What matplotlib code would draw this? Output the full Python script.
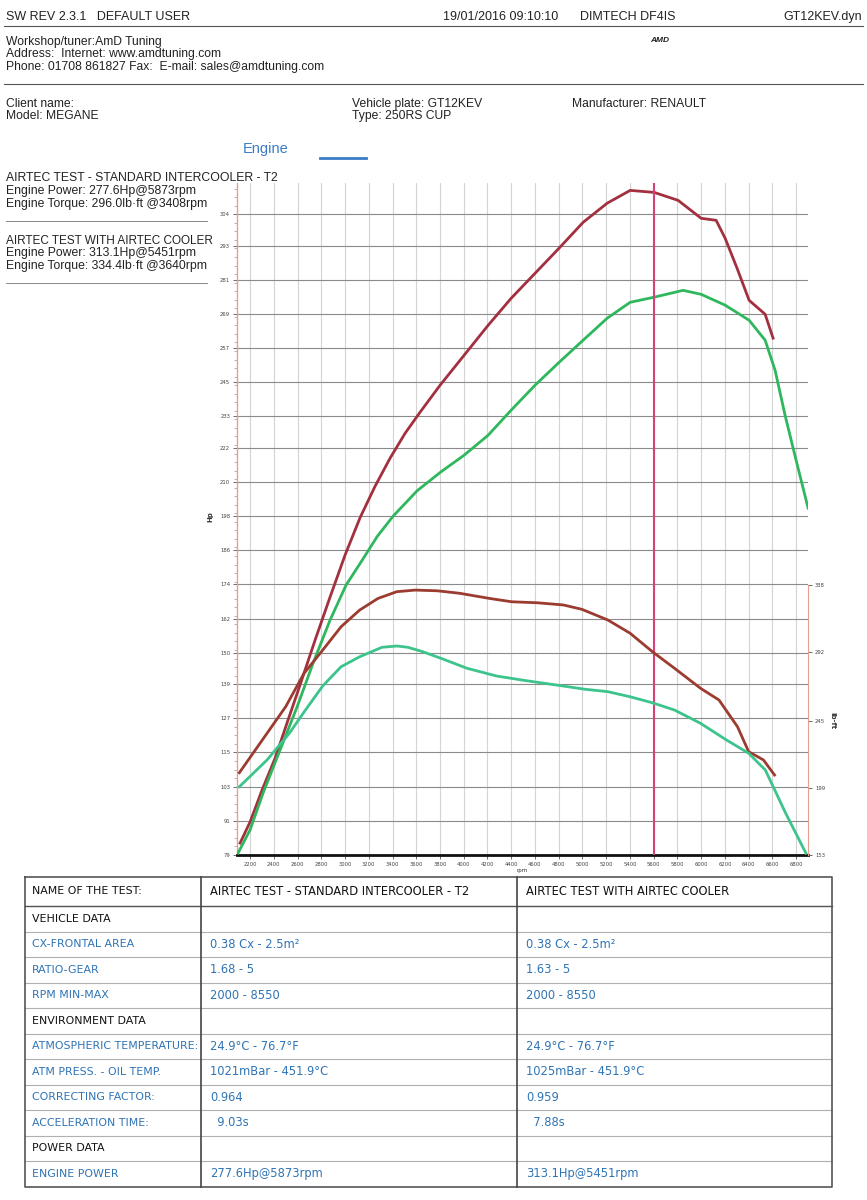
import matplotlib
matplotlib.use("Agg")
import matplotlib.pyplot as plt
from matplotlib.ticker import AutoMinorLocator

# ---- curve data ----
# airtec cooler run (red) - power
rpm_red_hp = [2116, 2200, 2301, 2411, 2520, 2621, 2748, 2874, 3000, 3127, 3253, 3380,
              3506, 3632, 3801, 4003, 4205, 4399, 4601, 4803, 5006, 5208, 5402, 5604,
              5806, 6000, 6126, 6202, 6303, 6404, 6539, 6606]
hp_red = [83.2, 90.6, 101.8, 113.0, 126.4, 138.7, 154.5, 169.6, 184.3, 197.5, 208.5, 218.4,
          227.1, 234.5, 244.0, 254.5, 265.0, 274.5, 283.3, 292.1, 301.2, 307.9, 312.4, 311.7,
          308.9, 302.6, 301.9, 295.6, 285.0, 273.8, 268.9, 260.5]

# standard intercooler run (green) - power
rpm_green_hp = [2099, 2200, 2310, 2453, 2596, 2731, 2874, 3009, 3144, 3270, 3405, 3607,
                3809, 4003, 4205, 4399, 4601, 4803, 5006, 5208, 5402, 5604, 5848, 6000,
                6202, 6404, 6539, 6623, 6707, 6800, 6901]
hp_green = [79.7, 87.8, 100.8, 115.9, 131.0, 146.4, 161.5, 173.8, 182.5, 190.8, 198.0, 206.9,
            213.6, 219.4, 226.4, 235.2, 244.0, 252.0, 259.8, 267.5, 273.1, 274.9, 277.3, 275.9,
            272.1, 266.8, 259.8, 249.2, 233.4, 217.6, 200.8]

# torque curves (lb-ft, right axis)
rpm_red_tq = [2110, 2343, 2500, 2655, 2812, 2967, 3123, 3278, 3436, 3592, 3779, 3966,
              4216, 4403, 4621, 4840, 4996, 5214, 5402, 5589, 5776, 5995, 6150, 6306,
              6400, 6525, 6618]
tq_red = [209.4, 236.4, 254.6, 277.5, 293.4, 309.4, 320.8, 328.8, 333.4, 334.5, 334.0, 332.3,
          328.8, 326.5, 325.8, 324.3, 321.3, 314.0, 304.9, 292.3, 280.9, 267.2, 259.2, 240.9,
          223.8, 218.1, 207.8]

rpm_green_tq = [2110, 2343, 2531, 2655, 2812, 2967, 3123, 3311, 3436, 3529, 3654, 3810,
                4028, 4278, 4528, 4777, 5027, 5214, 5402, 5589, 5776, 5995, 6213, 6400,
                6541, 6712, 6883]
tq_green = [199.8, 218.1, 236.4, 251.0, 268.8, 282.0, 288.8, 295.3, 296.2, 295.3, 292.3, 287.7,
            280.9, 275.6, 272.4, 269.5, 266.5, 264.9, 261.4, 257.3, 252.3, 243.2, 231.8, 222.7,
            211.2, 181.6, 154.2]

marker_rpm = 5600

hp_ticks = [79, 91, 103, 115, 127, 139, 150, 162, 174, 186, 198, 210, 222, 233, 245,
            257, 269, 281, 293, 304]
tq_ticks = [153, 199, 245, 292, 338]
rpm_ticks = [2200, 2400, 2600, 2800, 3000, 3200, 3400, 3600, 3800, 4000, 4200, 4400,
             4600, 4800, 5000, 5200, 5400, 5600, 5800, 6000, 6200, 6400, 6600, 6800]

# ---- table data ----
row_names = ["NAME OF THE TEST:", "VEHICLE DATA", "CX-FRONTAL AREA", "RATIO-GEAR",
             "RPM MIN-MAX", "ENVIRONMENT DATA", "ATMOSPHERIC TEMPERATURE:",
             "ATM PRESS. - OIL TEMP.", "CORRECTING FACTOR:", "ACCELERATION TIME:",
             "POWER DATA", "ENGINE POWER"]
col_std = ["AIRTEC TEST - STANDARD INTERCOOLER - T2", "", "0.38 Cx - 2.5m²", "1.68 - 5",
           "2000 - 8550", "", "24.9°C - 76.7°F", "1021mBar - 451.9°C", "0.964", "  9.03s",
           "", "277.6Hp@5873rpm"]
col_air = ["AIRTEC TEST WITH AIRTEC COOLER", "", "0.38 Cx - 2.5m²", "1.63 - 5",
           "2000 - 8550", "", "24.9°C - 76.7°F", "1025mBar - 451.9°C", "0.959", "  7.88s",
           "", "313.1Hp@5451rpm"]
black_rows = [0, 1, 5, 10]

RED_HP = "#a3303f"
RED_TQ = "#9c3b30"
GREEN_HP = "#2fb75e"
GREEN_TQ = "#3cc48c"
BLUE = "#2f74b5"
SALMON = "#e7a08f"

W, H = 867, 1200
fig = plt.figure(figsize=(W / 100, H / 100), dpi=100)

# background axes in pixel units for the sheet text and table
bg = fig.add_axes([0, 0, 1, 1])
bg.set_xlim(0, W)
bg.set_ylim(H, 0)
bg.axis("off")

hfont = ["Liberation Sans", "DejaVu Sans"]
tfont = ["DejaVu Sans"]

def txt(x, y, s, size=8.5, family=hfont, color="#222222", ha="left", **kw):
    bg.text(x, y, s, fontsize=size, family=family, color=color, ha=ha, va="center", **kw)

# header
txt(6, 17, "SW REV 2.3.1   DEFAULT USER", 9)
txt(443, 17, "19/01/2016 09:10:10", 9)
txt(580, 17, "DIMTECH DF4IS", 9)
txt(862, 17, "GT12KEV.dyn", 9, ha="right")
bg.plot([4, 863], [26, 26], color="#555555", lw=0.8)
txt(6, 42, "Workshop/tuner:AmD Tuning", 8.7)
txt(6, 54, "Address:  Internet: www.amdtuning.com", 8.7)
txt(6, 67, "Phone: 01708 861827 Fax:  E-mail: sales@amdtuning.com", 8.7)
txt(650, 40, "AMD", 6, weight="bold", style="italic")
bg.plot([4, 863], [84, 84], color="#555555", lw=0.8)
txt(6, 104, "Client name:", 8.7)
txt(6, 116, "Model: MEGANE", 8.7)
txt(352, 104, "Vehicle plate: GT12KEV", 8.7)
txt(352, 116, "Type: 250RS CUP", 8.7)
txt(572, 104, "Manufacturer: RENAULT", 8.7)

txt(243, 149, "Engine", 10.5, color="#3a7cc8")
bg.plot([320, 366], [158, 158], color="#3a7cc8", lw=2)

# run summaries on the left
txt(6, 178, "AIRTEC TEST - STANDARD INTERCOOLER - T2", 8.8)
txt(6, 191, "Engine Power: 277.6Hp@5873rpm", 8.8)
txt(6, 204, "Engine Torque: 296.0lb·ft @3408rpm", 8.8)
bg.plot([6, 207], [221, 221], color="#888888", lw=0.7)
txt(6, 241, "AIRTEC TEST WITH AIRTEC COOLER", 8.5)
txt(6, 253, "Engine Power: 313.1Hp@5451rpm", 8.8)
txt(6, 266, "Engine Torque: 334.4lb·ft @3640rpm", 8.8)
bg.plot([6, 207], [283, 283], color="#888888", lw=0.7)

# ---- table ----
x0, x1, x2, x3 = 25, 201, 517, 832
y_top = 877
row_h = [29] + [25.5] * 11
ys = [y_top]
for h in row_h:
    ys.append(ys[-1] + h)
for yy in ys[1:-1]:
    bg.plot([x0, x3], [yy, yy], color="#b0b0b0", lw=0.8)
bg.plot([x0, x3], [ys[1], ys[1]], color="#555555", lw=1.0)
bg.plot([x0, x3, x3, x0, x0], [ys[0], ys[0], ys[-1], ys[-1], ys[0]], color="#555555", lw=1.2)
bg.plot([x1, x1], [ys[0], ys[-1]], color="#444444", lw=1.2)
bg.plot([x2, x2], [ys[0], ys[-1]], color="#444444", lw=1.2)
for i, name in enumerate(row_names):
    yc = (ys[i] + ys[i + 1]) / 2
    c = "#111111" if i in black_rows else BLUE
    txt(x0 + 7, yc, name, 7.95, family=tfont, color=c)
    txt(x1 + 9, yc, col_std[i], 8.3, family=tfont, color=c)
    txt(x2 + 9, yc, col_air[i], 8.3, family=tfont, color=c)

# ---- dyno chart ----
ax = fig.add_axes([237 / W, 1 - 855 / H, (808 - 237) / W, (855 - 183) / H])
ax.set_xlim(2090, 6900)
ax.set_ylim(79, 315)
ax.set_facecolor("none")

ax.set_yticks(hp_ticks)
ax.set_yticklabels([str(v) for v in hp_ticks])
ax.yaxis.set_minor_locator(AutoMinorLocator(4))
ax.set_xticks(rpm_ticks)
ax.set_xticklabels([str(v) for v in rpm_ticks])
ax.grid(axis="y", color="#8a8a8a", lw=0.8)
ax.grid(axis="x", color="#d4d4d4", lw=0.8)
ax.set_axisbelow(True)
ax.tick_params(axis="both", labelsize=3.8, labelcolor="#444444", length=3, width=0.6, color="#555555", pad=2)
ax.tick_params(axis="y", which="minor", length=2, width=0.5, color="#999999")
for s in ["top", "right"]:
    ax.spines[s].set_visible(False)
ax.spines["left"].set_color(SALMON)
ax.spines["left"].set_linewidth(1.0)
ax.spines["bottom"].set_color("#111111")
ax.spines["bottom"].set_linewidth(2.0)
ax.set_xlabel("rpm", fontsize=4, color="#333333", labelpad=1)
ax.set_ylabel("Hp", fontsize=5, color="#333333", labelpad=1, weight="bold")
ax.yaxis.set_label_coords(-0.042, (198 - 79) / (315 - 79))

ax.plot(rpm_red_hp, hp_red, color=RED_HP, lw=2.0, zorder=3)
ax.plot(rpm_green_hp, hp_green, color=GREEN_HP, lw=2.0, zorder=3)
ax.axvline(marker_rpm, color="#d8407a", lw=1.5, zorder=4)

ax2 = ax.twinx()
ax2.set_ylim(153, 613.4)
ax2.set_yticks(tq_ticks)
ax2.set_yticklabels([str(v) for v in tq_ticks])
ax2.tick_params(axis="y", labelsize=3.8, labelcolor="#444444", length=3, width=0.6, color="#555555", pad=2)
for s in ["top", "left", "bottom"]:
    ax2.spines[s].set_visible(False)
ax2.spines["right"].set_color(SALMON)
ax2.spines["right"].set_bounds(153, 338)
ax2.set_ylabel("lb-ft", fontsize=5, color="#333333", rotation=-90, weight="bold")
ax2.yaxis.set_label_coords(1.048, (245 - 153) / (613.4 - 153))
ax2.plot(rpm_red_tq, tq_red, color=RED_TQ, lw=2.0, zorder=3)
ax2.plot(rpm_green_tq, tq_green, color=GREEN_TQ, lw=2.0, zorder=3)

fig.savefig("out.png", dpi=100)
